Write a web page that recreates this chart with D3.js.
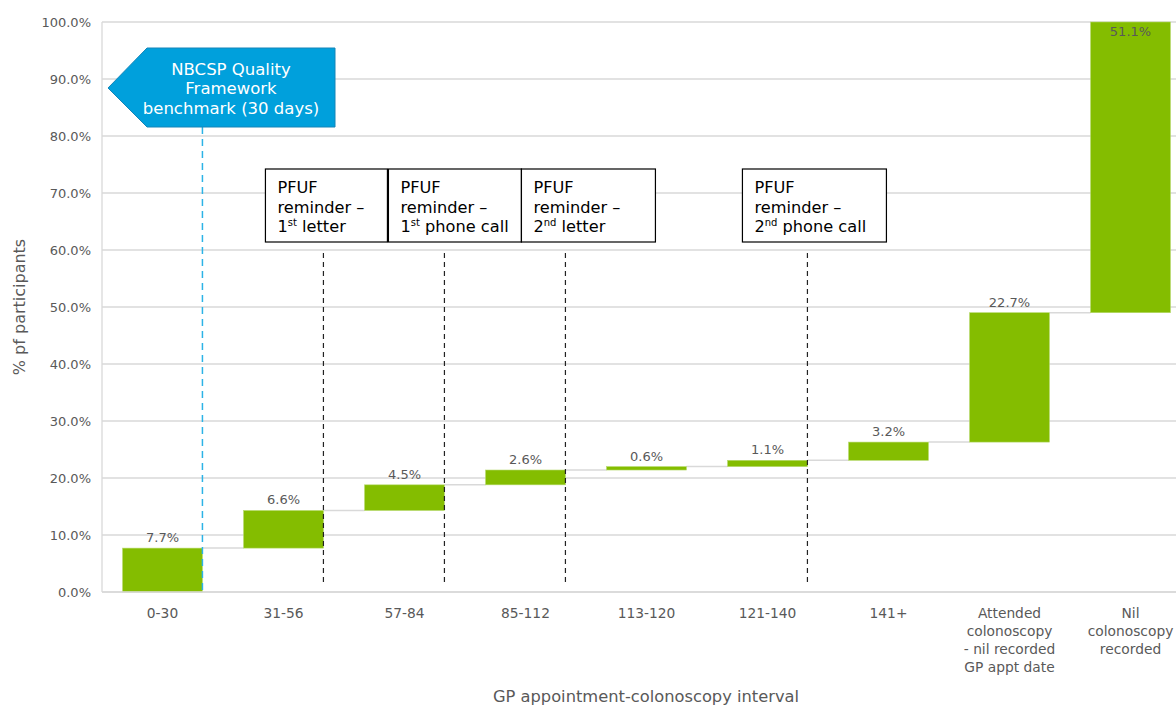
<!DOCTYPE html>
<html>
<head>
<meta charset="utf-8">
<script src="https://cdn.jsdelivr.net/npm/d3@7"></script>
<style>
  body { margin: 0; background: #fff; }
  svg { font-family: "DejaVu Sans", Verdana, sans-serif; }
</style>
</head>
<body>
<svg id="chart" width="1176" height="706"></svg>
<script>
// categories along the x axis (multi-line labels)
var categories = ["0-30", "31-56", "57-84", "85-112", "113-120", "121-140", "141+",
  "Attended colonoscopy - nil recorded GP appt date", "Nil colonoscopy recorded"];
var catLines = [["0-30"], ["31-56"], ["57-84"], ["85-112"], ["113-120"], ["121-140"], ["141+"],
  ["Attended", "colonoscopy", "- nil recorded", "GP appt date"], ["Nil", "colonoscopy", "recorded"]];
// % of participants in each interval
var values = [7.7, 6.6, 4.5, 2.6, 0.6, 1.1, 3.2, 22.7, 51.1];
var yTicks = [0, 10, 20, 30, 40, 50, 60, 70, 80, 90, 100];

// reminder markers, drawn at the right edge of the category bar
var reminders = [
  { cat: "31-56", lines: [["PFUF"], ["reminder \u2013"], ["1", "st", " letter"]], dx: -58, w: 122 },
  { cat: "57-84", lines: [["PFUF"], ["reminder \u2013"], ["1", "st", " phone call"]], dx: -56, w: 133 },
  { cat: "85-112", lines: [["PFUF"], ["reminder \u2013"], ["2", "nd", " letter"]], dx: -44, w: 134 },
  { cat: "121-140", lines: [["PFUF"], ["reminder \u2013"], ["2", "nd", " phone call"]], dx: -65, w: 144 }
];
var benchmarkCat = "0-30";
var benchmarkText = ["NBCSP Quality", "Framework", "benchmark (30 days)"];

var svg = d3.select("#chart");
var margin = { left: 102, top: 22, bottom: 114 };
var H = 706;

var x = d3.scaleBand().domain(categories).range([margin.left, margin.left + 121 * 9]).paddingInner(0.34).paddingOuter(0.17);
var y = d3.scaleLinear().domain([0, 100]).range([H - margin.bottom, margin.top]);

// waterfall starts/ends
var data = [];
var run = 0;
values.forEach(function (v, i) {
  data.push({ cat: categories[i], v: v, start: run, end: Math.min(100, run + v) });
  run += v;
});

var gray = "#595959";

// gridlines
svg.append("g").selectAll("line").data(yTicks).enter().append("line")
  .attr("x1", margin.left).attr("x2", 1176)
  .attr("y1", function (d) { return y(d); }).attr("y2", function (d) { return y(d); })
  .attr("stroke", "#d9d9d9").attr("stroke-width", 1.3);

// y axis line
svg.append("line").attr("x1", margin.left).attr("x2", margin.left)
  .attr("y1", y(100)).attr("y2", y(0)).attr("stroke", "#d9d9d9").attr("stroke-width", 1.3);

// y tick labels
svg.append("g").selectAll("text").data(yTicks).enter().append("text")
  .attr("x", 91).attr("y", function (d) { return y(d) + 4.5; })
  .attr("text-anchor", "end").attr("font-size", 13).attr("fill", gray)
  .text(function (d) { return d.toFixed(1) + "%"; });

// connectors
svg.append("g").selectAll("line").data(data.slice(0, -1)).enter().append("line")
  .attr("x1", function (d) { return x(d.cat) + x.bandwidth(); })
  .attr("x2", function (d, i) { return x(categories[i + 1]); })
  .attr("y1", function (d) { return y(d.end); }).attr("y2", function (d) { return y(d.end); })
  .attr("stroke", "#d9d9d9").attr("stroke-width", 1.5);

// bars
svg.append("g").selectAll("rect").data(data).enter().append("rect")
  .attr("x", function (d) { return x(d.cat); })
  .attr("width", x.bandwidth())
  .attr("y", function (d) { return y(d.end); })
  .attr("height", function (d) { return Math.max(1, y(d.start) - y(d.end)); })
  .attr("fill", "#84bd00").attr("stroke", "#b5d96a").attr("stroke-width", 0.6);

// value labels
svg.append("g").selectAll("text").data(data).enter().append("text")
  .attr("x", function (d) { return x(d.cat) + x.bandwidth() / 2; })
  .attr("y", function (d) { return d.end >= 100 ? y(d.end) + 14 : y(d.end) - 6; })
  .attr("text-anchor", "middle").attr("font-size", 13).attr("fill", gray)
  .text(function (d) { return d.v.toFixed(1) + "%"; });

// x axis line
svg.append("line").attr("x1", margin.left).attr("x2", 1176)
  .attr("y1", y(0)).attr("y2", y(0)).attr("stroke", "#d9d9d9").attr("stroke-width", 1.3);

// x labels
var xl = svg.append("g").selectAll("text").data(catLines).enter().append("text")
  .attr("text-anchor", "middle").attr("font-size", 13.8).attr("fill", gray)
  .attr("transform", function (d, i) { return "translate(" + (x(categories[i]) + x.bandwidth() / 2) + "," + 618 + ")"; });
xl.selectAll("tspan").data(function (d) { return d; }).enter().append("tspan")
  .attr("x", 0).attr("y", function (d, i) { return i * 18; })
  .text(function (d) { return d; });

// axis titles
svg.append("text").attr("x", 646).attr("y", 702).attr("text-anchor", "middle")
  .attr("font-size", 16.3).attr("fill", gray).text("GP appointment-colonoscopy interval");
svg.append("text").attr("transform", "translate(25," + 307 + ") rotate(-90)")
  .attr("text-anchor", "middle").attr("font-size", 16).attr("fill", gray).text("% pf participants");

// reminder dashed lines and boxes
reminders.forEach(function (r) {
  var lx = x(r.cat) + x.bandwidth();
  svg.append("line").attr("x1", lx).attr("x2", lx).attr("y1", 253).attr("y2", 586)
    .attr("stroke", "#222").attr("stroke-width", 1.2).attr("stroke-dasharray", "5,4");
  var bx = lx + r.dx;
  svg.append("rect").attr("x", bx).attr("y", 169).attr("width", r.w).attr("height", 73)
    .attr("fill", "#fff").attr("stroke", "#000").attr("stroke-width", 1.2);
  var t = svg.append("text").attr("font-size", 16.2).attr("fill", "#000");
  r.lines.forEach(function (ln, i) {
    t.append("tspan").attr("x", bx + 12).attr("y", 193 + i * 19.5).text(ln[0]);
    if (ln.length > 1) {
      t.append("tspan").attr("font-size", 10).attr("dy", -6).text(ln[1]);
      t.append("tspan").attr("dy", 6).text(ln[2]);
    }
  });
});

// benchmark line and callout
var bxl = x(benchmarkCat) + x.bandwidth();
svg.append("line").attr("x1", bxl).attr("x2", bxl).attr("y1", 127).attr("y2", y(0))
  .attr("stroke", "#2cb3e6").attr("stroke-width", 1.5).attr("stroke-dasharray", "7,5");
svg.append("path")
  .attr("d", "M108,88 L147,48 L335,48 L335,127 L147,127 Z")
  .attr("fill", "#00a0dc").attr("stroke", "#1485b8").attr("stroke-width", 1);
svg.append("g").selectAll("text").data(benchmarkText).enter().append("text")
  .attr("x", 231).attr("y", function (d, i) { return 74.5 + i * 19.5; })
  .attr("text-anchor", "middle").attr("font-size", 16.5).attr("fill", "#fff")
  .text(function (d) { return d; });
</script>
</body>
</html>
